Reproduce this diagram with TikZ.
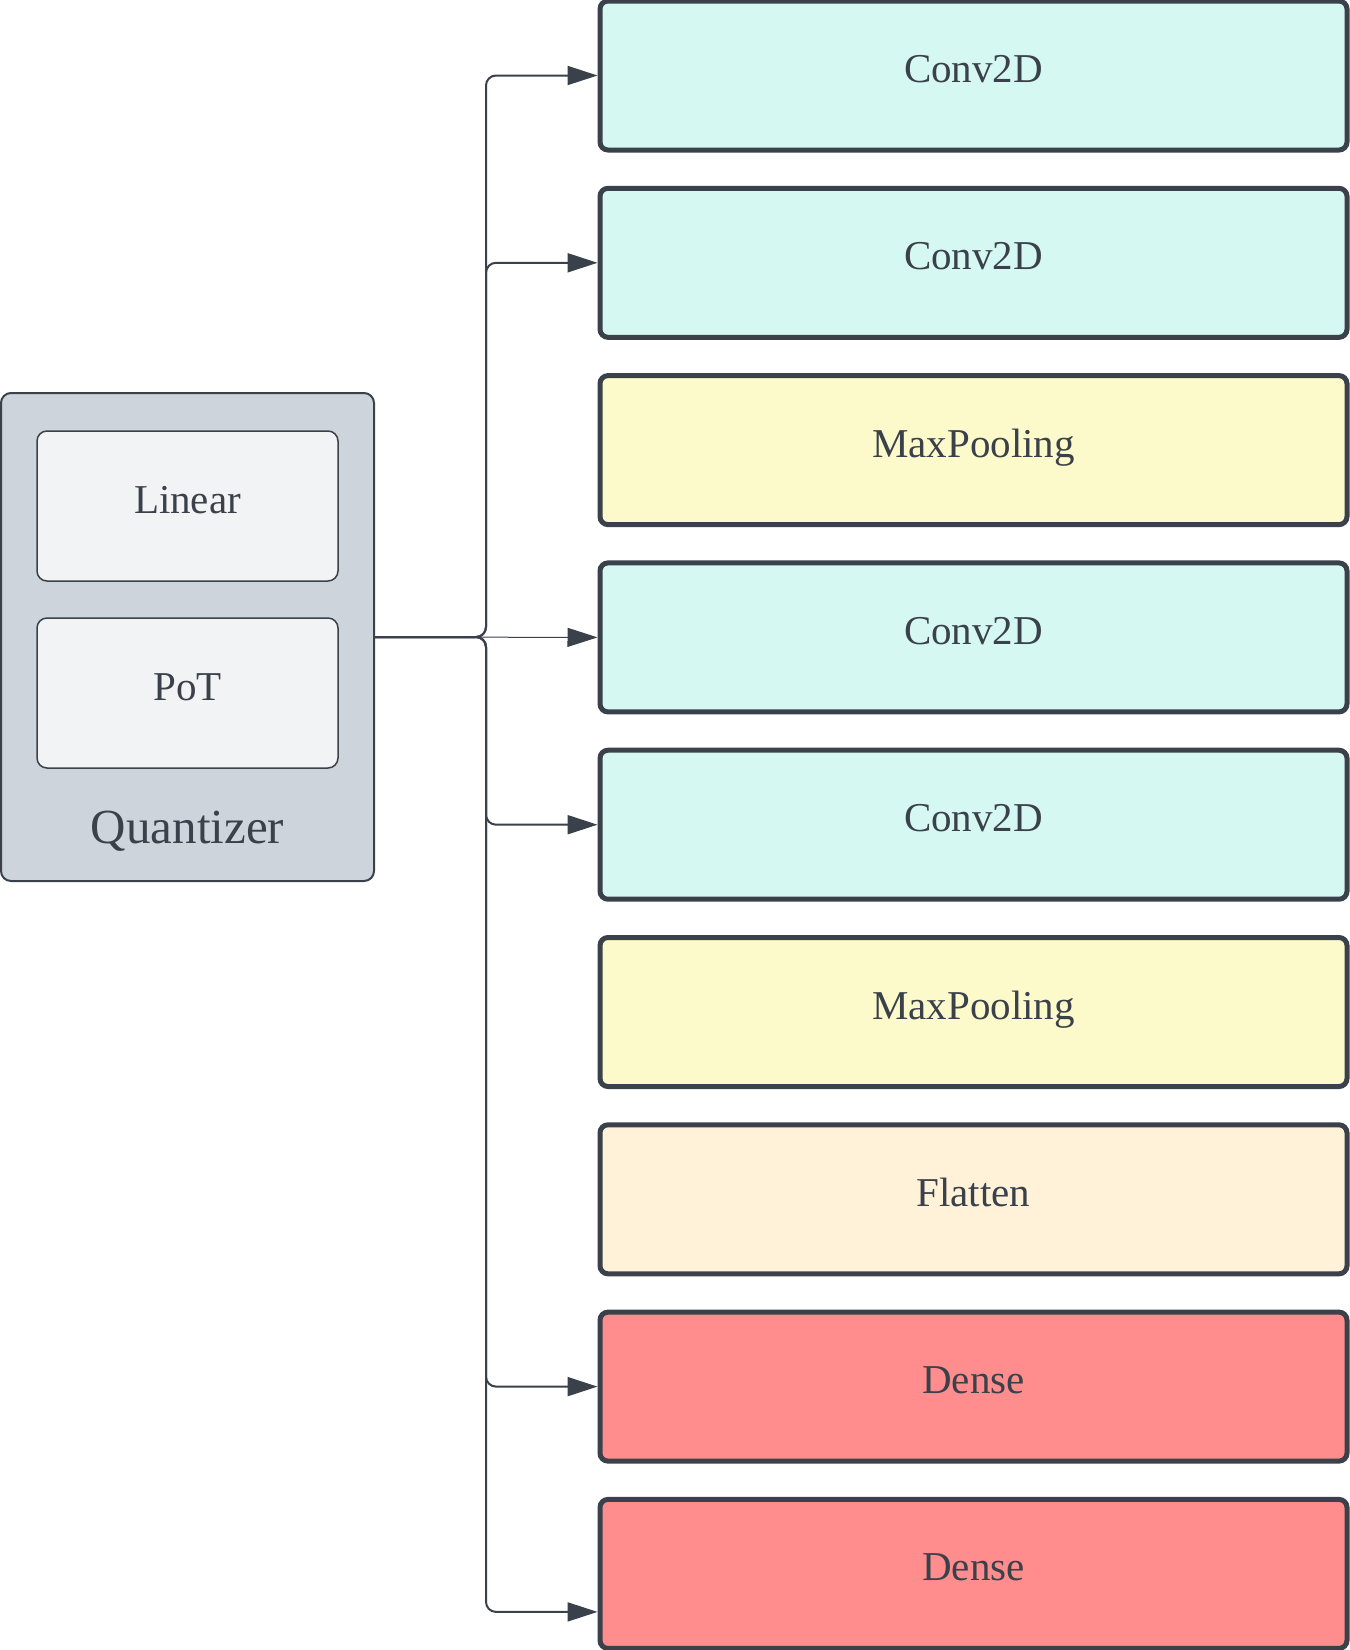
\documentclass[tikz,border=0pt]{standalone}
\usepackage{fontspec}
\setmainfont{Liberation Serif}
\usetikzlibrary{arrows.meta,calc}
\definecolor{ink}{HTML}{3A414A}
\definecolor{convfill}{HTML}{D6F8F2}
\definecolor{poolfill}{HTML}{FCFACB}
\definecolor{flatfill}{HTML}{FFF2D9}
\definecolor{densefill}{HTML}{FF8D8D}
\definecolor{quantfill}{HTML}{CED4DB}
\definecolor{innerfill}{HTML}{F2F3F5}
\tikzset{
  layer/.style={draw=ink, line width=2.5pt, rounded corners=4pt, inner sep=0pt,
    minimum width=373.5pt, minimum height=74.5pt, text=ink,
    font=\fontsize{20.5}{24}\selectfont, text height=10pt, text depth=3pt},
  conv/.style={layer, fill=convfill},
  pool/.style={layer, fill=poolfill},
  flat/.style={layer, fill=flatfill},
  dense/.style={layer, fill=densefill},
  quant/.style={draw=ink, line width=1pt, rounded corners=5pt, fill=quantfill,
    minimum width=186.5pt, minimum height=244pt, inner sep=0pt},
  qinner/.style={draw=ink, line width=0.75pt, rounded corners=5pt, fill=innerfill,
    minimum width=150.5pt, minimum height=75pt, inner sep=0pt, text=ink,
    font=\fontsize{20.5}{24}\selectfont, text height=10pt, text depth=3pt},
  conn/.style={draw=ink, line width=1pt, rounded corners=5pt,
    -{Triangle[length=15pt,width=9.5pt]}},
}
\begin{document}
\begin{tikzpicture}[x=0.5pt,y=-0.5pt]
\fill[white] (0,0) rectangle (1350,1650);
\useasboundingbox (0,0) rectangle (1350,1650);
\begin{scope}
\clip (0,0) rectangle (1350,1650);
% layers
\node[conv]  (L1) at (973.5,  75.5) {Conv2D};
\node[conv]  (L2) at (973.5, 262.8) {Conv2D};
\node[pool]  (L3) at (973.5, 450.1) {MaxPooling};
\node[conv]  (L4) at (973.5, 637.4) {Conv2D};
\node[conv]  (L5) at (973.5, 824.7) {Conv2D};
\node[pool]  (L6) at (973.5,1012.0) {MaxPooling};
\node[flat]  (L7) at (973.5,1199.3) {Flatten};
\node[dense] (L8) at (973.5,1386.6) {Dense};
\node[dense] (L9) at (973.5,1573.9) {Dense};
% quantizer
\node[quant]  (Q)  at (187.5,637) {};
\node[qinner] (Lin) at (187.5,506) {Linear};
\node[qinner] (PoT) at (187.5,693) {PoT};
\node[anchor=base, text=ink, font=\fontsize{24.5}{28}\selectfont, inner sep=0pt]
  (QL) at (187.5,843) {Quantizer};
% connectors
\coordinate (T) at (486,637);
\coordinate (L9in) at ([yshift=-19pt]L9.west);
\draw[conn] (Q.east) -- (T) |- (L1.west);
\draw[conn] (Q.east) -- (T) |- (L2.west);
\draw[conn] (Q.east) -- (T) |- (L5.west);
\draw[conn] (Q.east) -- (T) |- (L8.west);
\draw[conn] (Q.east) -- (T) |- (L9in);
\draw[conn, line width=0.5pt] (Q.east) -- (L4.west);
\draw[ink, line width=1.25pt] (Q.east) -- ([xshift=-4pt]T);
\end{scope}
\end{tikzpicture}
\end{document}
